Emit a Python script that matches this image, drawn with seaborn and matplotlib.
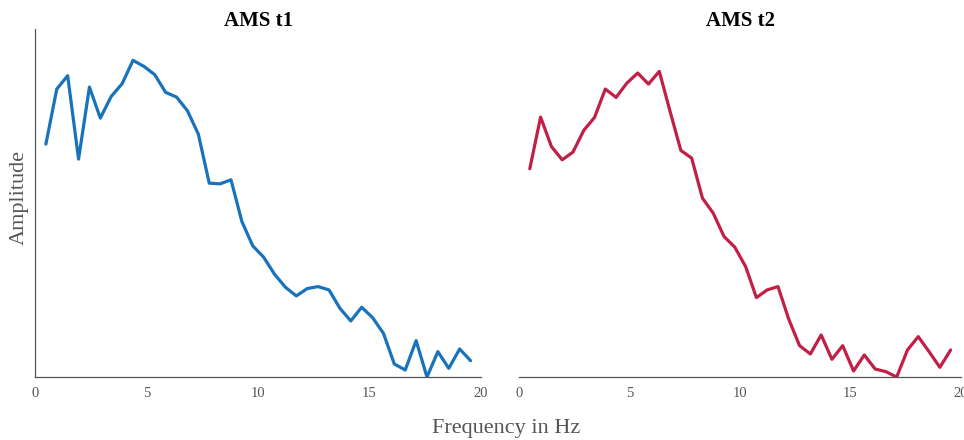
import numpy as np
import pandas as pd
import matplotlib
matplotlib.use("Agg")
import matplotlib.pyplot as plt
import seaborn as sns

# frequency bins (40 bins, 1000/2048 Hz resolution)
freq = [0.488, 0.977, 1.465, 1.953, 2.441, 2.930, 3.418, 3.906, 4.395, 4.883,
        5.371, 5.859, 6.348, 6.836, 7.324, 7.813, 8.301, 8.789, 9.277, 9.766,
        10.254, 10.742, 11.230, 11.719, 12.207, 12.695, 13.184, 13.672, 14.160, 14.648,
        15.137, 15.625, 16.113, 16.602, 17.090, 17.578, 18.066, 18.555, 19.043, 19.531]

# amplitude (arbitrary units)
amp_t1 = [0.698, 0.863, 0.903, 0.653, 0.869, 0.776, 0.841, 0.879, 0.949, 0.931,
          0.906, 0.853, 0.839, 0.798, 0.728, 0.581, 0.579, 0.591, 0.466, 0.393,
          0.359, 0.308, 0.269, 0.243, 0.265, 0.271, 0.261, 0.206, 0.168, 0.209,
          0.178, 0.131, 0.039, 0.021, 0.109, 0.000, 0.076, 0.026, 0.084, 0.049]

amp_t2 = [0.624, 0.779, 0.691, 0.651, 0.674, 0.739, 0.778, 0.863, 0.838, 0.881,
          0.911, 0.878, 0.916, 0.796, 0.679, 0.656, 0.536, 0.491, 0.421, 0.389,
          0.331, 0.238, 0.261, 0.271, 0.173, 0.094, 0.069, 0.126, 0.053, 0.094,
          0.018, 0.066, 0.024, 0.016, 0.000, 0.081, 0.121, 0.076, 0.029, 0.081]

titles = ["AMS t1", "AMS t2"]
colors = ["#1872BC", "#C21F47"]

df = pd.DataFrame({"freq": freq * 2,
                   "amp": amp_t1 + amp_t2,
                   "session": [titles[0]] * len(freq) + [titles[1]] * len(freq)})

sns.set_style("white")
plt.rcParams["font.family"] = ["Liberation Serif", "DejaVu Serif"]

fig = plt.figure(figsize=(9.64, 4.4), dpi=100)
ax1 = fig.add_axes([35 / 964, 63 / 440, 446 / 964, 348 / 440])
ax2 = fig.add_axes([519 / 964, 63 / 440, 442 / 964, 348 / 440])

for ax, title, color in zip([ax1, ax2], titles, colors):
    sns.lineplot(data=df[df["session"] == title], x="freq", y="amp",
                 color=color, linewidth=2.3, ax=ax)
    ax.set_xlim(0, 20)
    ax.set_ylim(0, 1.043)
    ax.set_xticks([0, 5, 10, 15, 20])
    ax.set_yticks([])
    ax.set_xlabel("")
    ax.set_ylabel("")
    ax.set_title(title, fontsize=15, fontweight="bold", color="black", pad=2)
    ax.tick_params(axis="x", direction="in", length=4, width=0.9,
                   colors="#555555", labelcolor="#555555", labelsize=10.5, pad=7)
    for s in ["top", "right"]:
        ax.spines[s].set_visible(False)
    for s in ["left", "bottom"]:
        ax.spines[s].set_color("#555555")
        ax.spines[s].set_linewidth(0.9)

ax2.spines["left"].set_visible(False)
fig.text(19 / 964, 1 - 197 / 440, "Amplitude", fontsize=16, color="#555555",
         rotation=90, ha="center", va="center")
fig.text(506 / 964, 1 - 428 / 440, "Frequency in Hz", fontsize=16,
         color="#555555", ha="center", va="center")

fig.savefig("out.png", dpi=100)
